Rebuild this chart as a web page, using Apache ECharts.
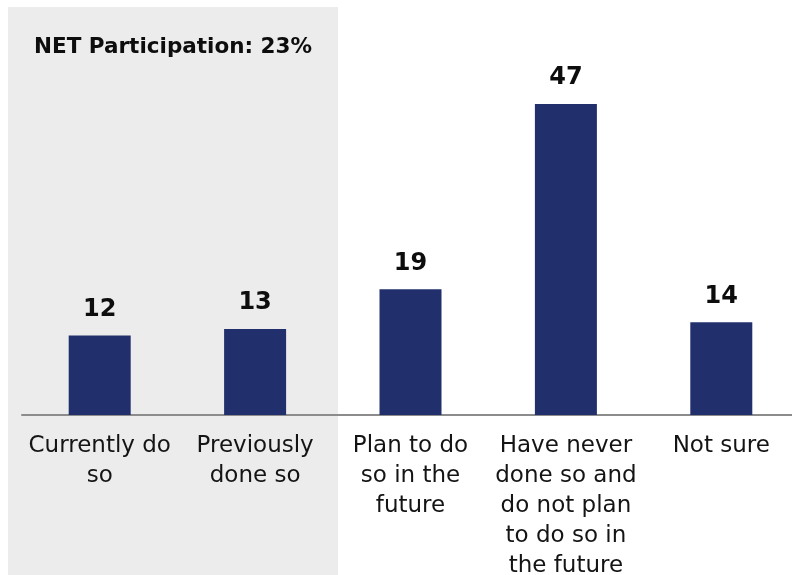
<!DOCTYPE html>
<html>
<head>
<meta charset="utf-8">
<script src="https://cdn.jsdelivr.net/npm/echarts@6/dist/echarts.min.js"></script>
<style>
  html, body { margin: 0; padding: 0; background: #fff; }
  #chart { width: 792px; height: 575px; }
</style>
</head>
<body>
<div id="chart"></div>
<script>
// Survey answers and their shares (%)
const categories = [
  'Currently do\nso',
  'Previously\ndone so',
  'Plan to do\nso in the\nfuture',
  'Have never\ndone so and\ndo not plan\nto do so in\nthe future',
  'Not sure'
];
const values = [12, 13, 19, 47, 14];
const netLabel = 'NET Participation: 23%';

const FONT = '"DejaVu Sans", sans-serif';
const chart = echarts.init(document.getElementById('chart'), null, { renderer: 'canvas' });

chart.setOption({
  backgroundColor: '#ffffff',
  animation: false,
  graphic: [
    {
      type: 'rect',
      z: -10,
      shape: { x: 8, y: 7, width: 330, height: 575 },
      style: { fill: '#ececec' }
    },
    {
      type: 'text',
      left: 34,
      top: 36,
      style: {
        text: netLabel,
        font: 'bold 21.5px ' + FONT,
        fill: '#0d0d0d'
      }
    }
  ],
  grid: { left: 22, top: 18, width: 777, height: 397, outerBoundsMode: 'none', containLabel: false },
  xAxis: {
    type: 'category',
    data: categories,
    axisLine: { show: true, lineStyle: { color: '#8c8c8c', width: 2 } },
    axisTick: { show: false },
    axisLabel: {
      interval: 0,
      margin: 16,
      fontFamily: FONT,
      fontSize: 23,
      lineHeight: 30,
      color: '#141414',
      align: 'center'
    }
  },
  yAxis: {
    type: 'value',
    min: 0,
    max: 60,
    show: false,
    splitLine: { show: false }
  },
  series: [{
    type: 'bar',
    data: values,
    barWidth: 62,
    itemStyle: { color: '#21306d' },
    label: {
      show: true,
      position: 'top',
      distance: 14,
      fontFamily: FONT,
      fontWeight: 'bold',
      fontSize: 24,
      color: '#0d0d0d'
    }
  }]
});
</script>
</body>
</html>
